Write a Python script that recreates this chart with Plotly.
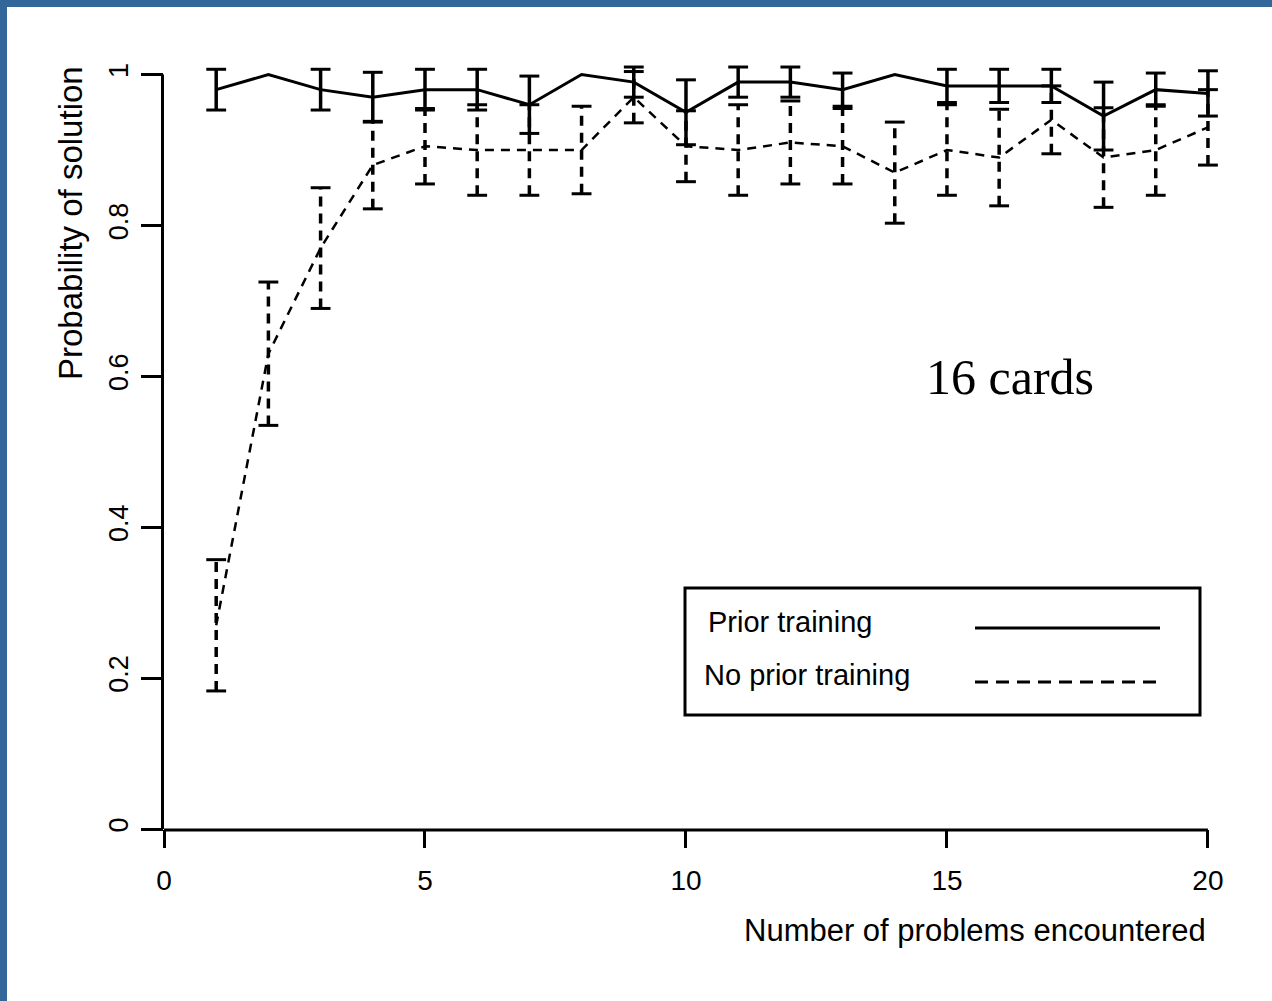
import plotly.graph_objects as go

# ---- data ----
problems = list(range(1, 21))

prior_mean = [0.98, 1.00, 0.98, 0.97, 0.98, 0.98, 0.96, 1.00, 0.99, 0.95,
              0.99, 0.99, 0.98, 1.00, 0.985, 0.985, 0.985, 0.945, 0.98, 0.975]
prior_err = [0.027, 0.0, 0.027, 0.033, 0.027, 0.027, 0.038, 0.0, 0.02, 0.043,
             0.02, 0.02, 0.022, 0.0, 0.022, 0.022, 0.022, 0.045, 0.022, 0.03]

noprior_mean = [0.27, 0.63, 0.77, 0.88, 0.905, 0.90, 0.90, 0.90, 0.97, 0.905,
                0.90, 0.91, 0.905, 0.87, 0.90, 0.89, 0.94, 0.89, 0.90, 0.93]
noprior_err = [0.087, 0.095, 0.08, 0.058, 0.05, 0.06, 0.06, 0.058, 0.034, 0.047,
               0.06, 0.055, 0.05, 0.067, 0.06, 0.064, 0.045, 0.066, 0.06, 0.05]

x_ticks = [0, 5, 10, 15, 20]
y_ticks = [0, 0.2, 0.4, 0.6, 0.8, 1]
series_names = ["Prior training", "No prior training"]
x_title = "Number of problems encountered"
y_title = "Probability of solution"
panel_label = "16 cards"

FONT = "Liberation Sans, Arial, sans-serif"
CAP = 0.19      # half cap width in x units
Y_TOP = 1.014   # headroom so top caps are not clipped
X_MAX = 20.25   # room so the caps at x=20 are not clipped


def stems(xs, ms, es):
    bx, by = [], []
    for x, m, e in zip(xs, ms, es):
        if e <= 0:
            continue
        bx += [x, x, None]
        by += [m - e, m + e, None]
    return bx, by


def caps(xs, ms, es):
    bx, by = [], []
    for x, m, e in zip(xs, ms, es):
        if e <= 0:
            continue
        for yv in (m - e, m + e):
            bx += [x - CAP, x + CAP, None]
            by += [yv, yv, None]
    return bx, by


fig = go.Figure()

# prior training
fig.add_trace(go.Scatter(x=problems, y=prior_mean, mode="lines",
                         line=dict(color="black", width=3), showlegend=False,
                         name=series_names[0]))
bx, by = stems(problems, prior_mean, prior_err)
fig.add_trace(go.Scatter(x=bx, y=by, mode="lines",
                         line=dict(color="black", width=3.5),
                         showlegend=False, hoverinfo="skip"))
bx, by = caps(problems, prior_mean, prior_err)
fig.add_trace(go.Scatter(x=bx, y=by, mode="lines",
                         line=dict(color="black", width=3),
                         showlegend=False, hoverinfo="skip"))

# no prior training
fig.add_trace(go.Scatter(x=problems, y=noprior_mean, mode="lines",
                         line=dict(color="black", width=2.5, dash="9px,7px"),
                         showlegend=False, name=series_names[1]))
bx, by = stems(problems, noprior_mean, noprior_err)
fig.add_trace(go.Scatter(x=bx, y=by, mode="lines",
                         line=dict(color="black", width=3.5, dash="10px,7px"),
                         showlegend=False, hoverinfo="skip"))
bx, by = caps(problems, noprior_mean, noprior_err)
fig.add_trace(go.Scatter(x=bx, y=by, mode="lines",
                         line=dict(color="black", width=3),
                         showlegend=False, hoverinfo="skip"))

W, H = 1272, 1001
L, B = 164, 172
X0_PX, X20_PX = 164, 1208                   # pixel columns of x=0 and x=20
Y0_PX, Y1_PX = 829, 75                      # pixel rows of y=0 and y=1
pw = round((X20_PX - X0_PX) * X_MAX / 20)
R = W - L - pw
ph = round((Y0_PX - Y1_PX) * Y_TOP)
T = H - B - ph


def px2paper_x(px):
    return (px - L) / pw


def px2paper_y(py):
    return (H - B - py) / ph


shapes = []
# blue frame (top and left bands)
shapes.append(dict(type="rect", xref="paper", yref="paper",
                   x0=px2paper_x(0), x1=px2paper_x(W), y0=px2paper_y(7), y1=px2paper_y(0),
                   fillcolor="#336699", line=dict(width=0), layer="below"))
shapes.append(dict(type="rect", xref="paper", yref="paper",
                   x0=px2paper_x(0), x1=px2paper_x(7), y0=px2paper_y(H), y1=px2paper_y(0),
                   fillcolor="#336699", line=dict(width=0), layer="below"))
# axis lines (only over the labelled ranges)
shapes.append(dict(type="line", xref="paper", yref="y",
                   x0=px2paper_x(162.5), x1=px2paper_x(162.5), y0=0, y1=1,
                   line=dict(color="black", width=3)))
shapes.append(dict(type="line", xref="x", yref="paper",
                   x0=0, x1=20, y0=px2paper_y(830), y1=px2paper_y(830),
                   line=dict(color="black", width=3)))
# legend box
shapes.append(dict(type="rect", xref="paper", yref="paper",
                   x0=px2paper_x(685), x1=px2paper_x(1200), y0=px2paper_y(715), y1=px2paper_y(588),
                   line=dict(color="black", width=3), fillcolor="rgba(0,0,0,0)"))
shapes.append(dict(type="line", xref="paper", yref="paper",
                   x0=px2paper_x(975), x1=px2paper_x(1160), y0=px2paper_y(628), y1=px2paper_y(628),
                   line=dict(color="black", width=3)))
shapes.append(dict(type="line", xref="paper", yref="paper",
                   x0=px2paper_x(975), x1=px2paper_x(1162), y0=px2paper_y(682), y1=px2paper_y(682),
                   line=dict(color="black", width=3, dash="13px,8px")))

annotations = [
    dict(text=series_names[0], xref="paper", yref="paper", x=px2paper_x(706), y=px2paper_y(622),
         xanchor="left", yanchor="middle", showarrow=False, font=dict(family=FONT, size=29, color="black")),
    dict(text=series_names[1], xref="paper", yref="paper", x=px2paper_x(702), y=px2paper_y(675),
         xanchor="left", yanchor="middle", showarrow=False, font=dict(family=FONT, size=29, color="black")),
    dict(text=panel_label, xref="paper", yref="paper", x=px2paper_x(1010), y=px2paper_y(377),
         xanchor="center", yanchor="middle", showarrow=False,
         font=dict(family="Liberation Serif, Times New Roman, serif", size=50, color="black")),
    dict(text=x_title, xref="paper", yref="paper", x=px2paper_x(1208), y=px2paper_y(930),
         xanchor="right", yanchor="middle", showarrow=False, font=dict(family=FONT, size=31, color="black")),
    dict(text=y_title, xref="paper", yref="paper", x=px2paper_x(70), y=px2paper_y(223),
         xanchor="center", yanchor="middle", textangle=-90, showarrow=False,
         font=dict(family=FONT, size=33, color="black")),
]

fig.update_layout(
    width=W, height=H,
    margin=dict(l=L, r=R, t=T, b=B, pad=0),
    paper_bgcolor="white", plot_bgcolor="white",
    shapes=shapes, annotations=annotations,
    showlegend=False,
    font=dict(family=FONT, color="black"),
)
fig.update_xaxes(range=[0, X_MAX], tickvals=x_ticks, ticktext=[str(v) for v in x_ticks],
                 showgrid=False, zeroline=False, showline=False,
                 ticks="outside", ticklen=18, tickwidth=2.5, tickcolor="black",
                 ticklabelstandoff=8,
                 tickfont=dict(family=FONT, size=28, color="black"))
fig.update_yaxes(range=[0, Y_TOP], tickvals=y_ticks, ticktext=[("%g" % v) for v in y_ticks],
                 showgrid=False, zeroline=False, showline=False,
                 ticks="outside", ticklen=22, tickwidth=2.5, tickcolor="black", tickangle=-90,
                 ticklabelstandoff=2,
                 tickfont=dict(family=FONT, size=27, color="black"))

fig.write_html("out.html")
